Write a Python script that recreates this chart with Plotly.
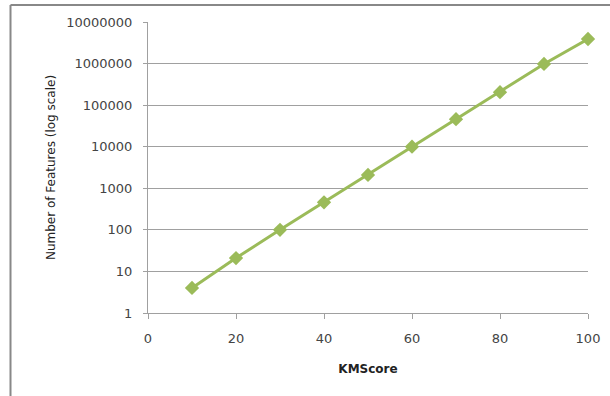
import plotly.graph_objects as go

kmscore = [10, 20, 30, 40, 50, 60, 70, 80, 90, 100]
num_features = [4, 21, 100, 460, 2100, 10000, 46000, 205000, 980000, 3900000]
y_tickvals = [1, 10, 100, 1000, 10000, 100000, 1000000, 10000000]
y_ticktext = ["1", "10", "100", "1000", "10000", "100000", "1000000", "10000000"]
x_tickvals = [0, 20, 40, 60, 80, 100]

fig = go.Figure()
fig.add_trace(go.Scatter(
    x=kmscore, y=num_features, mode="lines+markers",
    line=dict(color="#9BBB59", width=3),
    marker=dict(symbol="diamond", size=11, color="#9BBB59"),
    showlegend=False, cliponaxis=False,
))

L, R, T, B = 148, 588, 22, 313
W, H = 610, 396
def px(x):
    return (x - L) / (R - L)
def py(y):
    return (B - y) / (B - T)

# outer chart frame (top and left edges visible in the reference)
fig.add_shape(type="line", xref="paper", yref="paper",
              x0=px(10.5), x1=px(610), y0=py(5), y1=py(5),
              line=dict(color="#888888", width=2), layer="below")
fig.add_shape(type="line", xref="paper", yref="paper",
              x0=px(10.5), x1=px(10.5), y0=py(5), y1=py(396),
              line=dict(color="#888888", width=2), layer="below")

tickfont = dict(family="DejaVu Sans, Liberation Sans, sans-serif", size=13, color="#444444")
fig.update_layout(
    width=W, height=H,
    margin=dict(l=L, r=W - R, t=T, b=H - B, autoexpand=False),
    paper_bgcolor="white", plot_bgcolor="white",
    font=dict(family="DejaVu Sans, Liberation Sans, sans-serif", size=12, color="#333"),
    xaxis=dict(range=[0, 100], tickvals=x_tickvals, showgrid=False,
               showline=True, linecolor="#a0a0a0", linewidth=1,
               ticks="outside", ticklen=5, tickcolor="#a0a0a0",
               tickfont=tickfont, ticklabelstandoff=8,
               title=dict(text="<b>KMScore</b>", font=dict(size=12, color="#222"), standoff=20),
               zeroline=False),
    yaxis=dict(type="log", range=[0, 7], tickvals=y_tickvals, ticktext=y_ticktext,
               showgrid=True, gridcolor="#a0a0a0", gridwidth=1,
               showline=True, linecolor="#a0a0a0", linewidth=1,
               ticks="outside", ticklen=4, tickcolor="#a0a0a0",
               tickfont=tickfont, ticklabelstandoff=8,
               title=dict(text="Number of Features (log scale)", font=dict(size=12, color="#222"), standoff=8),
               zeroline=False),
)

fig.write_html("out.html", config={"displayModeBar": False},
               post_script="document.body.style.margin='0px';")
